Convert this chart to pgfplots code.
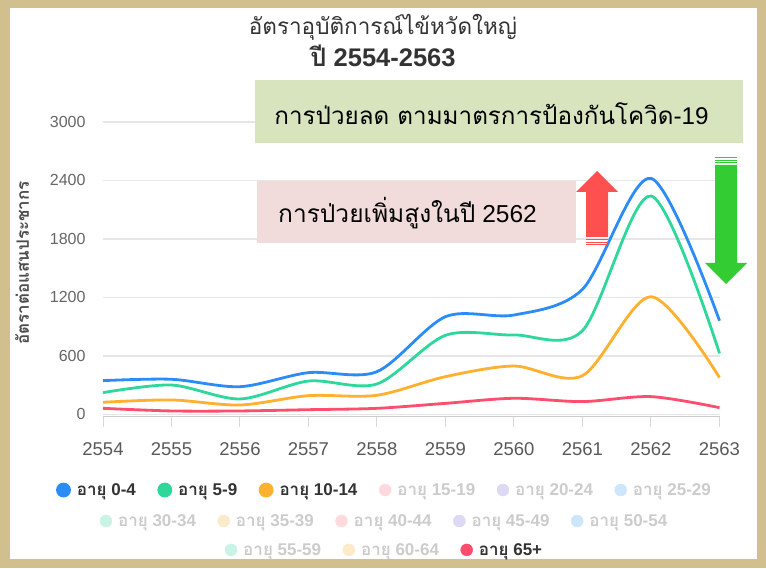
\documentclass[border=0pt]{standalone}
\usepackage{pgfplots}
\pgfplotsset{compat=1.18}
\usepackage{fontspec}
\setmainfont{Liberation Sans}
\newfontfamily\thai[Script=Thai]{Loma}
\definecolor{cBlue}{HTML}{2B8CF7}
\definecolor{cGreen}{HTML}{2ED89A}
\definecolor{cOrange}{HTML}{FFB02E}
\definecolor{cRed}{HTML}{FF4D6D}
\definecolor{cPink}{HTML}{FFD9DE}
\definecolor{cLav}{HTML}{DDD8F3}
\definecolor{cLBlue}{HTML}{CDE6FB}
\definecolor{cMint}{HTML}{C9F4E5}
\definecolor{cCream}{HTML}{FDEACB}
\definecolor{tan}{RGB}{209,192,141}
\definecolor{gridc}{HTML}{E6E6E6}
\definecolor{tickc}{HTML}{D8D8D8}
\definecolor{boxG}{HTML}{D7E4BD}
\definecolor{boxP}{HTML}{F2DCDB}
\definecolor{arrR}{HTML}{FF5050}
\definecolor{arrG}{HTML}{33CC33}
\definecolor{inact}{HTML}{CCCCCC}
\definecolor{act}{HTML}{333333}
\newcommand{\leg}[2]{\textcolor{#1}{{\thai\bfseries อายุ} #2}}
\pgfplotsset{
  legcirc/.style={legend image code/.code={\fill[##1] (6pt,0pt) circle (6pt);}},
  mylegend/.style={legend style={at={(0.4566,#1)}, anchor=center, draw=none, fill=none,
     font=\fontsize{17}{19}\selectfont\bfseries,
     /tikz/every even column/.append style={column sep=19.5pt},
     /tikz/every odd column/.append style={column sep=4pt}}}
}
\begin{document}
\begin{tikzpicture}[x=1pt,y=1pt]
\fill[tan] (0,0) rectangle (766,568);
\fill[white] (10,9) rectangle (757,560);
% title
\node[text=act, inner sep=0pt] at (383,541) {\fontsize{22.5}{25}\selectfont\thai อัตราอุบัติการณ์ไข้หวัดใหญ่};
\node[text=act, inner sep=0pt] at (383,512) {\fontsize{25.5}{28}\selectfont\bfseries{\thai ปี} 2554-2563};
\begin{axis}[
  at={(103pt,151.1pt)}, anchor=south west,
  scale only axis, width=616.5pt, height=294.9pt,
  xmin=2554, xmax=2563, ymin=-25, ymax=3000,
  axis x line*=bottom, axis y line*=left,
  x axis line style={draw=inact, line width=1pt},
  y axis line style={draw=none},
  xtick={2554,...,2563}, ytick={0,600,...,3000},
  /pgf/number format/set thousands separator={},
  /pgf/number format/assume math mode=true,
  xticklabel style={font=\fontsize{18.5}{20}\selectfont, text=black!65, yshift=-12pt},
  yticklabel style={font=\fontsize{16}{18}\selectfont, text=black!60, xshift=-4pt},
  tick align=outside, major tick length=10pt,
  xtick style={draw=tickc, line width=1pt},
  ytick style={draw=none},
  ymajorgrids, grid style={gridc, line width=1.2pt},
  clip=false,
  legcirc, mylegend=-0.248, legend columns=6,
]
\addplot[cBlue, line width=2.8pt, smooth, tension=0.5] coordinates {
(2554,347) (2555,361) (2556,285) (2557,429) (2558,439) (2559,1003) (2560,1020) (2561,1284) (2562,2422) (2563,962)};
\addlegendentry{\leg{act}{0-4}}
\addplot[cGreen, line width=2.8pt, smooth, tension=0.5] coordinates {
(2554,224) (2555,302) (2556,159) (2557,343) (2558,313) (2559,812) (2560,815) (2561,860) (2562,2241) (2563,627)};
\addlegendentry{\leg{act}{5-9}}
\addplot[cOrange, line width=2.8pt, smooth, tension=0.5] coordinates {
(2554,125) (2555,149) (2556,97) (2557,193) (2558,197) (2559,388) (2560,497) (2561,398) (2562,1208) (2563,378)};
\addlegendentry{\leg{act}{10-14}}
\addplot[cRed, line width=2.8pt, smooth, tension=0.5, forget plot] coordinates {
(2554,63) (2555,36) (2556,36) (2557,49) (2558,63) (2559,114) (2560,166) (2561,132) (2562,183) (2563,70)};
\addlegendimage{cPink}\addlegendentry{\leg{inact}{15-19}}
\addlegendimage{cLav}\addlegendentry{\leg{inact}{20-24}}
\addlegendimage{cLBlue}\addlegendentry{\leg{inact}{25-29}}
\end{axis}
\begin{axis}[
  at={(103pt,151.1pt)}, anchor=south west,
  scale only axis, width=616.5pt, height=294.9pt, hide axis,
  xmin=0, xmax=1, ymin=0, ymax=1,
  legcirc, mylegend=-0.353, legend columns=5]
\addlegendimage{cMint}\addlegendentry{\leg{inact}{30-34}}
\addlegendimage{cCream}\addlegendentry{\leg{inact}{35-39}}
\addlegendimage{cPink}\addlegendentry{\leg{inact}{40-44}}
\addlegendimage{cLav}\addlegendentry{\leg{inact}{45-49}}
\addlegendimage{cLBlue}\addlegendentry{\leg{inact}{50-54}}
\end{axis}
\begin{axis}[
  at={(103pt,151.1pt)}, anchor=south west,
  scale only axis, width=616.5pt, height=294.9pt, hide axis,
  xmin=0, xmax=1, ymin=0, ymax=1,
  legcirc, mylegend=-0.451, legend columns=3]
\addlegendimage{cMint}\addlegendentry{\leg{inact}{55-59}}
\addlegendimage{cCream}\addlegendentry{\leg{inact}{60-64}}
\addlegendimage{cRed}\addlegendentry{\leg{act}{65+}}
\end{axis}
% y axis title
\node[rotate=90, text=black!70] at (22,305) {\fontsize{17}{19}\selectfont\thai\bfseries อัตราต่อแสนประชากร};
% annotation boxes
\fill[boxG] (255,425) rectangle (743,488);
\node[text=black] at (491.5,454) {\fontsize{24.2}{28}\selectfont{\thai การป่วยลด ตามมาตรการป้องกันโควิด}-19};
\fill[boxP] (257,325) rectangle (576,387);
\node[text=black] at (407.5,355) {\fontsize{24.5}{28}\selectfont{\thai การป่วยเพิ่มสูงในปี} 2562};
% red up arrow
\fill[arrR] (597,397) -- (618,376) -- (608,376) -- (608,331) -- (586,331) -- (586,376) -- (576,376) -- cycle;
\fill[arrR] (586,327.5) rectangle (608,329);
\fill[arrR] (586,325) rectangle (608,326.3);
\fill[arrR] (586,322.5) rectangle (608,323.8);
% green down arrow
\fill[arrG] (726,284) -- (747,305) -- (737,305) -- (737,403) -- (715,403) -- (715,305) -- (705,305) -- cycle;
\fill[arrG] (715,404.5) rectangle (737,405.8);
\fill[arrG] (715,407) rectangle (737,408.3);
\fill[arrG] (715,409.5) rectangle (737,410.8);
\pgfresetboundingbox
\path (0,0) rectangle (766,568);
\end{tikzpicture}
\end{document}
